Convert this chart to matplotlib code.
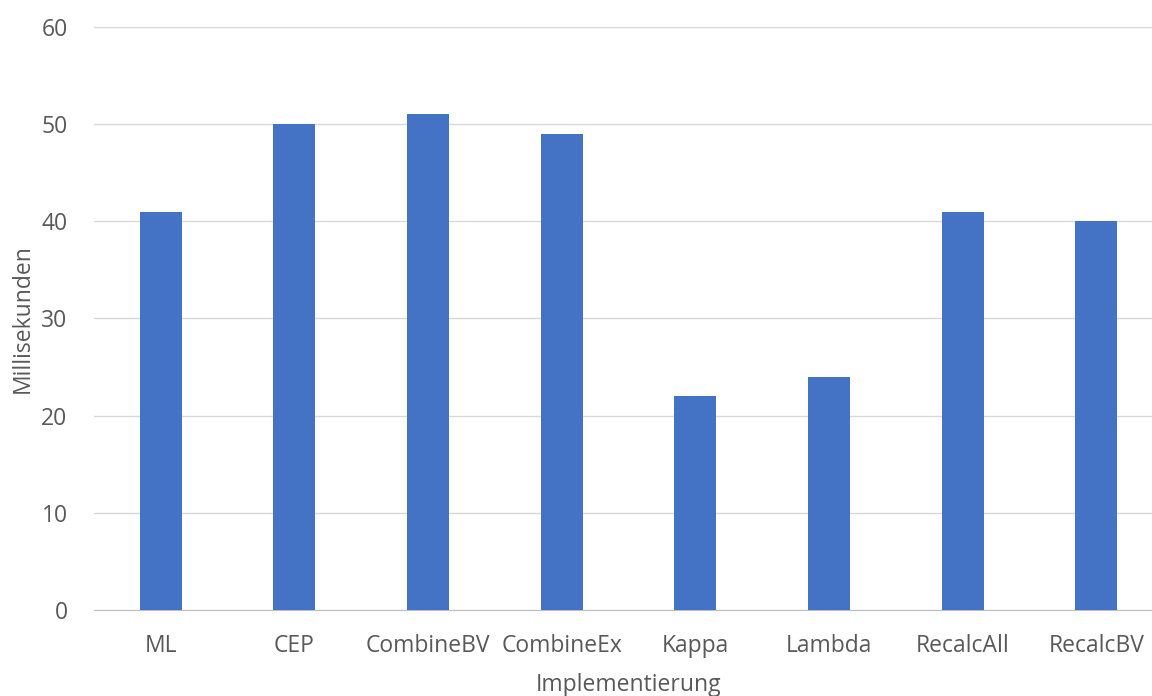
import matplotlib.pyplot as plt

categories = ['ML', 'CEP', 'CombineBV', 'CombineEx', 'Kappa', 'Lambda', 'RecalcAll', 'RecalcBV']
values = [41, 50, 51, 49, 22, 24, 41, 40]
yticks = [0, 10, 20, 30, 40, 50, 60]

plt.rcParams['font.family'] = ['Open Sans', 'DejaVu Sans']

fig = plt.figure(figsize=(11.52, 6.96), dpi=100)
# axes run a bit past the right edge, as in the original
ax = fig.add_axes([0.0816, 0.1236, 0.928, 0.8376])

x = range(len(categories))
ax.bar(x, values, width=0.315, color='#4472C4', zorder=3)

ax.set_xlim(-0.5, len(categories) - 0.5)
ax.set_ylim(0, 60)
ax.set_yticks(yticks)
ax.set_xticks(list(x))
ax.set_xticklabels(categories)
ax.grid(axis='y', color='#D9D9D9', linewidth=1, zorder=0)

for s in ['top', 'right', 'left']:
    ax.spines[s].set_visible(False)
ax.spines['bottom'].set_color('#BFBFBF')
ax.tick_params(axis='both', length=0, labelsize=16.5, colors='#595959')
ax.tick_params(axis='x', pad=17)
ax.tick_params(axis='y', pad=19)

ax.set_ylabel('Millisekunden', fontsize=16.5, color='#595959', labelpad=5)
ax.set_xlabel('Implementierung', fontsize=16.5, color='#595959', labelpad=11)

fig.savefig('out.png', dpi=100)
